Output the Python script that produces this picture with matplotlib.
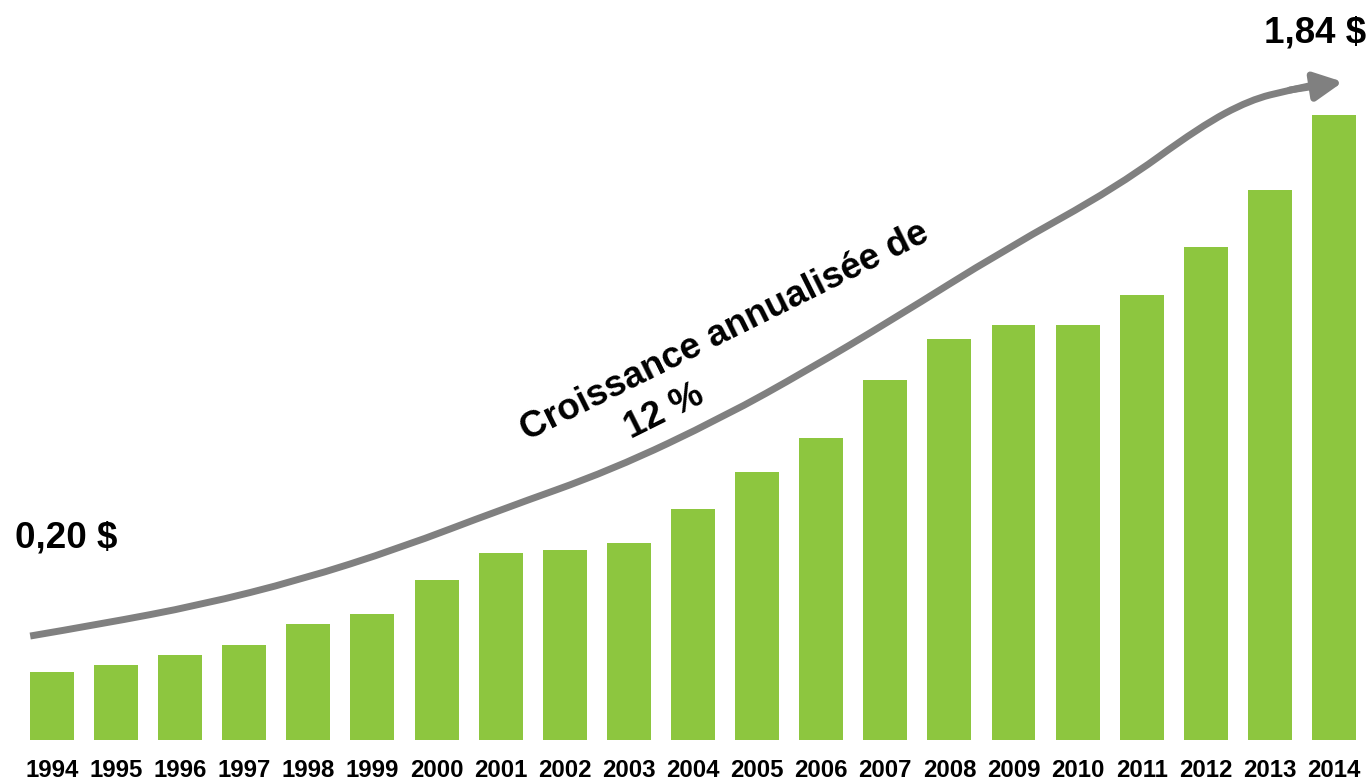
import matplotlib
matplotlib.use("Agg")
import matplotlib.pyplot as plt
from matplotlib.path import Path
from matplotlib.patches import PathPatch
import numpy as np

plt.rcParams['font.family'] = ['Liberation Sans', 'DejaVu Sans']

years = ['1994', '1995', '1996', '1997', '1998', '1999', '2000', '2001', '2002', '2003',
         '2004', '2005', '2006', '2007', '2008', '2009', '2010', '2011', '2012', '2013', '2014']
dividends = [0.20, 0.22, 0.25, 0.28, 0.34, 0.37, 0.47, 0.55, 0.56, 0.58,
             0.68, 0.79, 0.89, 1.06, 1.18, 1.22, 1.22, 1.31, 1.45, 1.62, 1.84]

# decorative growth arrow path (x in bar-index units, y in value units)
trend_x = [-0.34, 0.75, 2.31, 3.87, 5.43, 6.99, 8.74, 10.48, 11.79, 13.10,
           14.85, 16.62, 17.91, 18.69, 19.31, 19.83]
trend_y = [0.306, 0.341, 0.397, 0.471, 0.565, 0.677, 0.795, 0.951, 1.089, 1.236,
           1.442, 1.628, 1.805, 1.884, 1.913, 1.934]
arrow_tip = (20.14, 1.937)

start_label = '0,20 $'
end_label = '1,84 $'
growth_line1 = 'Croissance annualisée de'
growth_line2 = '12 %'

BAR = '#8DC63F'
GREY = '#808080'

W, H = 1367, 783
fig = plt.figure(figsize=(W / 100, H / 100), dpi=100)
ax = fig.add_axes([0, 43 / H, 1, 740 / H])

x = np.arange(len(years))
ax.bar(x, dividends, width=0.686, color=BAR, zorder=2)

ax.set_xlim(-0.811, 20.515)
ax.set_ylim(0, 2.178)

# smooth curve: quadratic segments using the points as control points
pts = list(zip(trend_x, trend_y))
verts = [pts[0]]
codes = [Path.MOVETO]
for k in range(1, len(pts) - 1):
    mid = ((pts[k][0] + pts[k + 1][0]) / 2, (pts[k][1] + pts[k + 1][1]) / 2)
    if k == len(pts) - 2:
        mid = pts[k + 1]
    verts += [pts[k], mid]
    codes += [Path.CURVE3, Path.CURVE3]
ax.add_patch(PathPatch(Path(verts, codes), facecolor='none', edgecolor=GREY,
                       lw=5, capstyle='butt', zorder=3))
ax.annotate('', xy=arrow_tip, xytext=(trend_x[-2], trend_y[-2]),
            arrowprops=dict(arrowstyle='-|>,head_length=1.7,head_width=0.85',
                            color=GREY, lw=5, shrinkA=0, shrinkB=0),
            zorder=3)

ax.set_xticks(x)
ax.set_xticklabels(years, fontsize=17.3, fontweight='bold')
for lab in ax.get_xticklabels():
    lab.set_va('baseline')
ax.tick_params(axis='x', length=0, pad=26.5)
ax.set_yticks([])
for s in ax.spines.values():
    s.set_visible(False)

ax.text(-0.58, (740 - 548) / 339.7, start_label, fontsize=26.5, fontweight='bold',
        ha='left', va='baseline')
ax.text(19.70, (740 - 43) / 339.7, end_label, fontsize=26.5, fontweight='bold',
        ha='center', va='baseline', clip_on=False)

ax.text(10.56, 1.175, growth_line1, fontsize=26.5, fontweight='bold',
        rotation=26.5, rotation_mode='anchor', ha='center', va='baseline')
ax.text(9.62, 0.94, growth_line2, fontsize=26.5, fontweight='bold',
        rotation=26.5, rotation_mode='anchor', ha='center', va='baseline')

fig.savefig('out.png', dpi=100)
